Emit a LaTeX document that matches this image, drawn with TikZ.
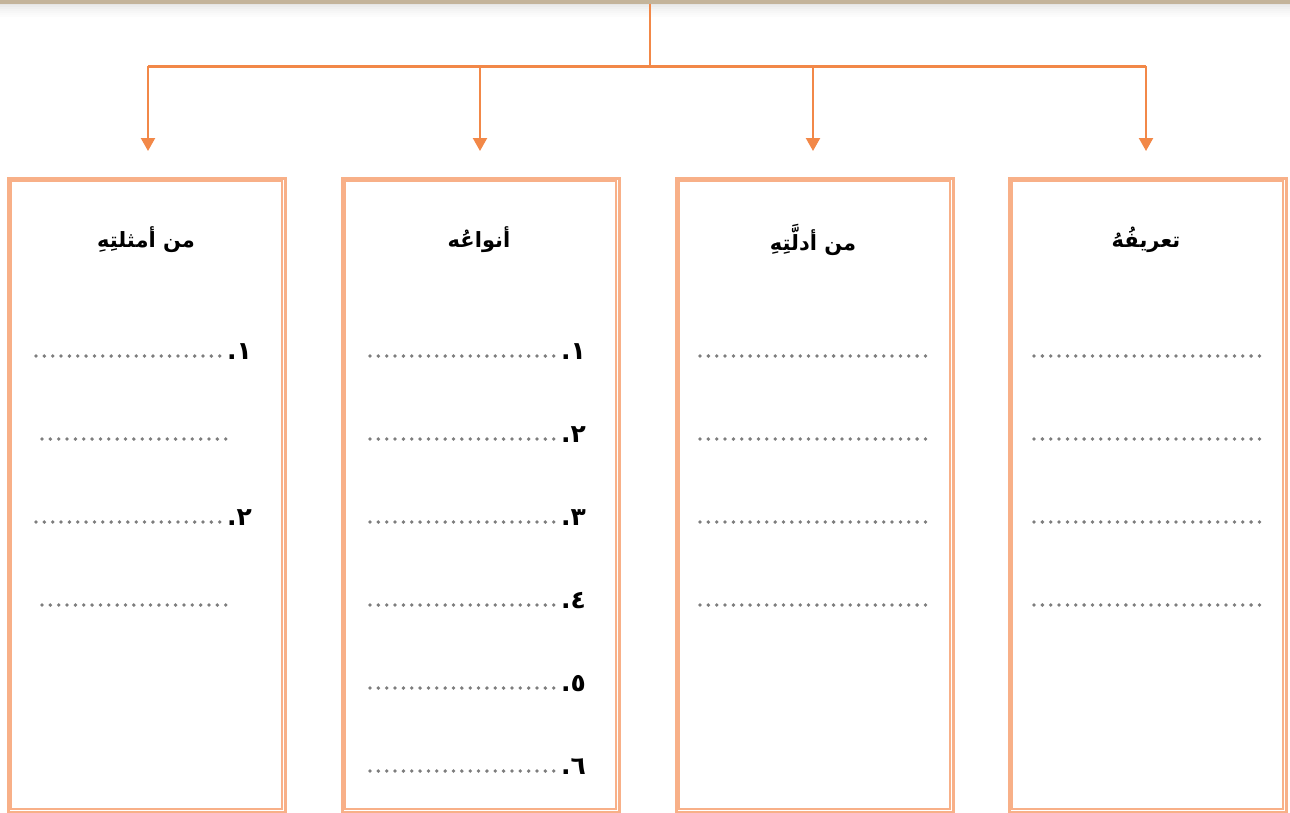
\documentclass[tikz,border=0pt]{standalone}
\usepackage{fontspec}
\newfontfamily\arabicfont[Script=Arabic]{DejaVu Sans}
\TeXXeTstate=1
\usetikzlibrary{arrows.meta}
\definecolor{conn}{RGB}{242,136,72}
\definecolor{boxc}{RGB}{248,176,136}
\definecolor{topbar}{RGB}{196,180,155}
\definecolor{dotc}{RGB}{125,125,125}
\tikzset{
  conline/.style={draw=conn, line width=2.2pt},
  arr/.style={conline, -{Triangle[width=14pt,length=13pt]}},
  colbox/.style={draw=boxc, line width=3.2pt, minimum width=277pt, minimum height=634pt, anchor=north west, inner sep=0pt},
  innerbox/.style={draw=boxc, line width=1.3pt},
  head/.style={font=\arabicfont\bfseries\fontsize{21}{26}\selectfont, text=black},
  num/.style={font=\arabicfont\bfseries\fontsize{25}{30}\selectfont, text=black, anchor=east, inner sep=0pt},
  dotrow/.style={draw=dotc, line width=3.8pt, line cap=round, dash pattern=on 0pt off 8.35pt}
}
\begin{document}
\begin{tikzpicture}[x=1pt,y=-1pt]
\useasboundingbox (0,0) rectangle (1290,812);
% top bar with shadow
\foreach \i/\o in {0/0.10,1/0.08,2/0.06,3/0.045,4/0.03,5/0.02,6/0.012}{
  \fill[black,opacity=\o] (0,3+2*\i) rectangle (1290,5+2*\i);
}
\fill[topbar] (0,0) rectangle (1290,3.5);
% boxes
\node[colbox] (b1) at (6.5,176.5) {};
\node[colbox] (b2) at (340.5,176.5) {};
\node[colbox] (b3) at (674.5,176.5) {};
\node[colbox] (b4) at (1007.5,176.5) {};
\foreach \b in {b1,b2,b3,b4}{
  \draw[innerbox] ([shift={(4.6,4.6)}]\b.north west) rectangle ([shift={(-4.6,-4.6)}]\b.south east);
}
% connectors
\coordinate (top) at (650,3.5);
\coordinate (hub) at (650,66);
\coordinate (t1) at (148,151);
\coordinate (t2) at (480,151);
\coordinate (t3) at (813,151);
\coordinate (t4) at (1146,151);
\draw[conline] (top) -- (hub);
\draw[conline, line width=3pt] (t1 |- hub) -- (t4 |- hub);
\draw[arr] (t1 |- hub) -- (t1);
\draw[arr] (t2 |- hub) -- (t2);
\draw[arr] (t3 |- hub) -- (t3);
\draw[arr] (t4 |- hub) -- (t4);
% headings
\node[head] (h1) at (146,240) {\beginR من أمثلتِهِ\endR};
\node[head] (h2) at (479,240) {\beginR أنواعُه\endR};
\node[head] (h3) at (813,240) {\beginR من أدلَّتِهِ\endR};
\node[head] (h4) at (1146,240) {\beginR تعريفُهُ\endR};
% box 1 rows
\node[num] (n11) at (252,352) {\beginR ١.\endR};
\draw[dotrow] (36,356) -- (222,356);
\draw[dotrow] (42,439) -- (232,439);
\node[num] (n12) at (252,518) {\beginR ٢.\endR};
\draw[dotrow] (36,522) -- (222,522);
\draw[dotrow] (42,605) -- (232,605);
% box 2 rows
\foreach \y/\d [count=\k] in {356/١,439/٢,522/٣,605/٤,688/٥,771/٦}{
  \node[num] (n2\k) at (586,\y-4) {\beginR \d.\endR};
  \draw[dotrow] (370,\y) -- (554,\y);
}
% box 3 rows
\foreach \y in {356,439,522,605}{
  \draw[dotrow] (700,\y) -- (928,\y);
}
% box 4 rows
\foreach \y in {356,439,522,605}{
  \draw[dotrow] (1034,\y) -- (1261,\y);
}
\end{tikzpicture}
\end{document}
